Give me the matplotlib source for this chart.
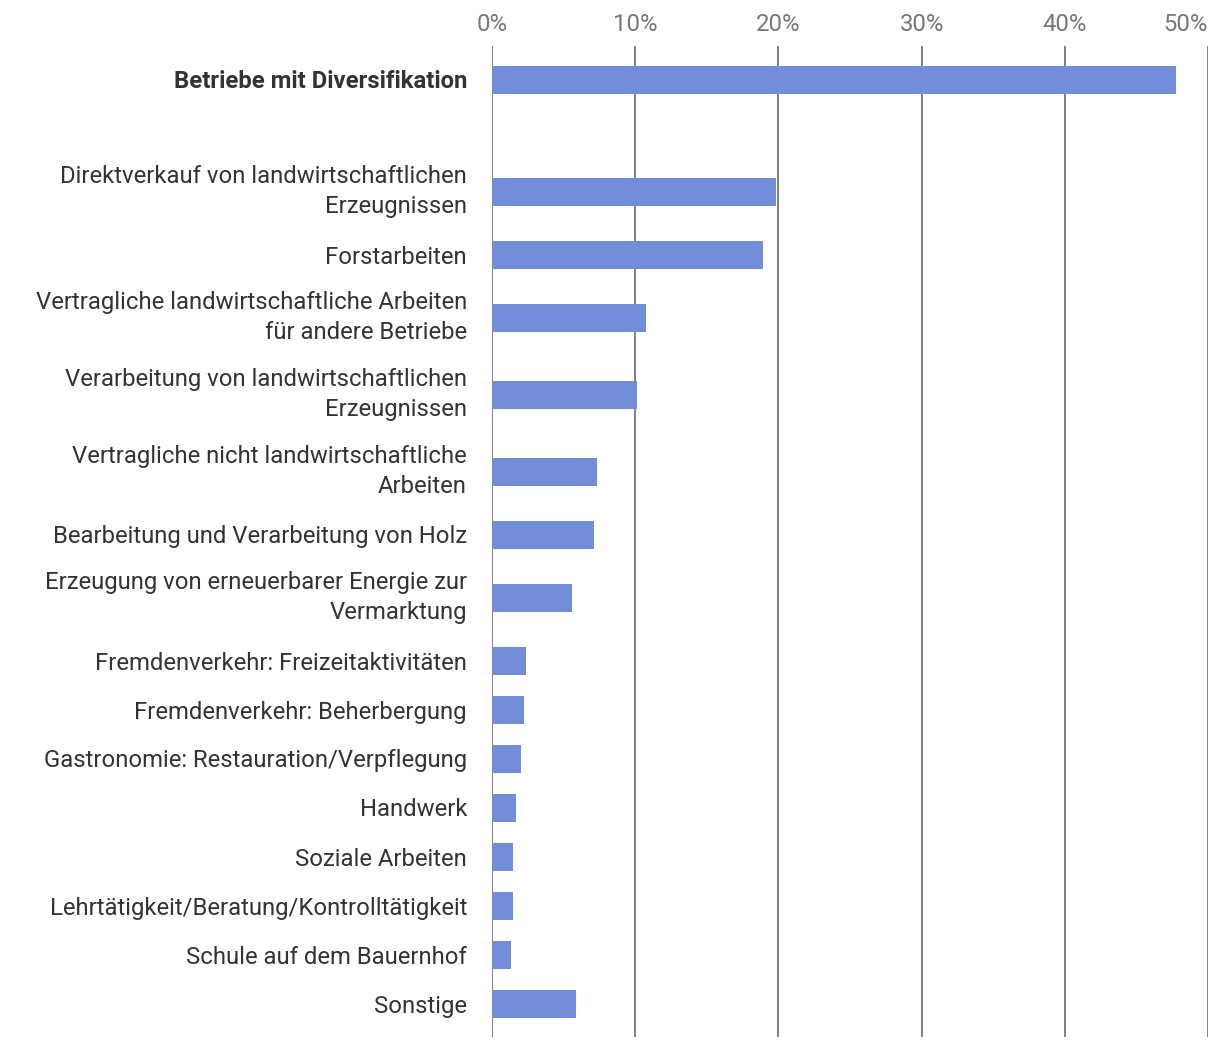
import matplotlib.pyplot as plt
from matplotlib.ticker import PercentFormatter

plt.rcParams['font.family'] = ['Roboto', 'DejaVu Sans']

# categories (None = empty spacer row)
categories = [
    "Betriebe mit Diversifikation",
    None,
    "Direktverkauf von landwirtschaftlichen\nErzeugnissen",
    "Forstarbeiten",
    "Vertragliche landwirtschaftliche Arbeiten\nfür andere Betriebe",
    "Verarbeitung von landwirtschaftlichen\nErzeugnissen",
    "Vertragliche nicht landwirtschaftliche\nArbeiten",
    "Bearbeitung und Verarbeitung von Holz",
    "Erzeugung von erneuerbarer Energie zur\nVermarktung",
    "Fremdenverkehr: Freizeitaktivitäten",
    "Fremdenverkehr: Beherbergung",
    "Gastronomie: Restauration/Verpflegung",
    "Handwerk",
    "Soziale Arbeiten",
    "Lehrtätigkeit/Beratung/Kontrolltätigkeit",
    "Schule auf dem Bauernhof",
    "Sonstige",
]
values = [47.8, None, 19.8, 18.9, 10.75, 10.1, 7.3, 7.1, 5.6,
          2.4, 2.2, 2.0, 1.7, 1.5, 1.5, 1.3, 5.9]
ticks = [0, 10, 20, 30, 40, 50]

# row heights depend on number of label lines
row_one, row_two = 49, 77
positions = []
y = 0
for cat in categories:
    lines = 1 if cat is None else cat.count("\n") + 1
    h = row_one if lines == 1 else row_two
    positions.append(y + h / 2)
    y += h
total = y

fig = plt.figure(figsize=(12.2, 10.48), dpi=100)
ax = fig.add_axes([492 / 1220, 1 - 1037 / 1048, 716 / 1220, 991 / 1048])

bar_pos = [p for p, v in zip(positions, values) if v is not None]
bar_val = [v for v in values if v is not None]
bar_lab = [c for c in categories if c is not None]

ax.barh(bar_pos, bar_val, height=28, color="#728ed8", zorder=3)

ax.set_xlim(0, 50)
ax.set_ylim(total + 9, -9)
ax.set_xticks(ticks)
ax.xaxis.set_major_formatter(PercentFormatter(decimals=0))
ax.xaxis.tick_top()
ax.grid(axis="x", color="#777777", linewidth=1.3, zorder=1)
ax.set_axisbelow(True)

ax.set_yticks(bar_pos)
ax.set_yticklabels(bar_lab, ha="right", multialignment="right", linespacing=1.38)
ax.tick_params(axis="y", length=0, pad=18, labelsize=17.2, labelcolor="#333333")
ax.tick_params(axis="x", length=0, pad=7, labelsize=17.2, labelcolor="#777777")
ax.get_yticklabels()[0].set_fontweight("bold")
ax.get_xticklabels()[-1].set_ha("right")
for lab in ax.get_yticklabels():
    if "\n" in lab.get_text():
        lab.set_va("center")

for s in ax.spines.values():
    s.set_visible(False)

fig.savefig("out.png", dpi=100)
